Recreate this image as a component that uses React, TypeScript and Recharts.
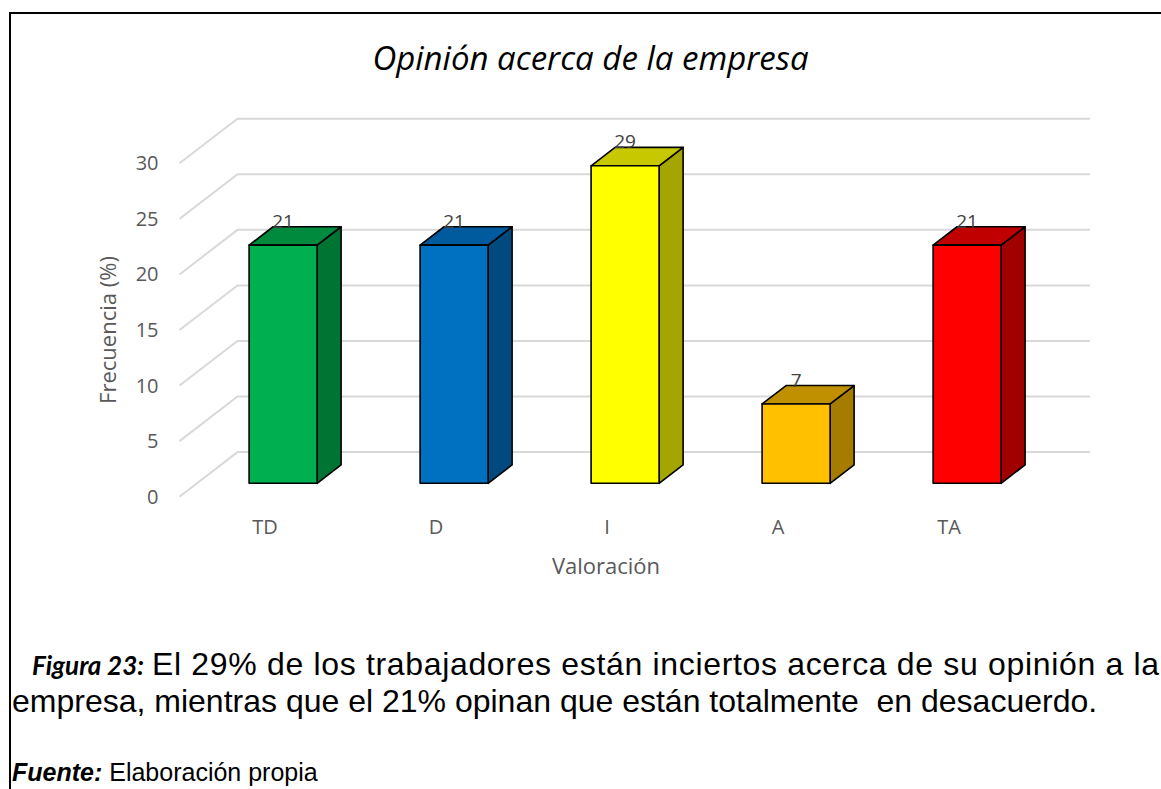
import React from "react";
import { BarChart, Bar, XAxis, YAxis, CartesianGrid, LabelList } from "recharts";

const categories = ["TD", "D", "I", "A", "TA"];
const frecuencia = [21.43, 21.43, 28.57, 7.14, 21.43];
const yTicks = [0, 5, 10, 15, 20, 25, 30];

const frontColors = ["#00B050", "#0070C0", "#FFFF00", "#FFC000", "#FF0000"];
const topColors = ["#008A3E", "#005A9E", "#C8C800", "#C09000", "#C00000"];
const sideColors = ["#007433", "#004A80", "#A5A500", "#A67C00", "#A00000"];

const data = categories.map((c, i) => ({ name: c, value: frecuencia[i] }));

// fake 3d offsets (px)
const WALL_DX = 58;
const WALL_DY = -44.6;
const BAR_DX = 17.6;
const BAR_DY = -13.4;
const DEPTH_DX = 24;
const DEPTH_DY = -18.4;

const FONT = "'Open Sans', sans-serif";
const ARIAL = "'Liberation Sans', Arial, sans-serif";
const GRAY = "#595959";

function GridLine(props: any) {
  const { x1, x2, y1 } = props;
  const d = `M${x1},${y1} L${x1 + WALL_DX},${y1 + WALL_DY} L${x2 + WALL_DX - 2.5},${y1 + WALL_DY}`;
  return <path key={props.key} d={d} fill="none" stroke="#D9D9D9" strokeWidth={2} />;
}

function Bar3D(props: any) {
  const { x, y, width, height, index } = props;
  const bx = x + BAR_DX;
  const top = y + BAR_DY;
  const base = y + height + BAR_DY;
  const r = bx + width;
  const s = { stroke: "#000", strokeWidth: 1.6, strokeLinejoin: "round" as const };
  return (
    <g>
      <polygon
        points={`${r},${top} ${r + DEPTH_DX},${top + DEPTH_DY} ${r + DEPTH_DX},${base + DEPTH_DY} ${r},${base}`}
        fill={sideColors[index]}
        {...s}
      />
      <polygon
        points={`${bx},${top} ${bx + DEPTH_DX},${top + DEPTH_DY} ${r + DEPTH_DX},${top + DEPTH_DY} ${r},${top}`}
        fill={topColors[index]}
        {...s}
      />
      <rect x={bx} y={top} width={width} height={base - top} fill={frontColors[index]} {...s} />
    </g>
  );
}

function ValueLabel(props: any) {
  const { x, y, width, value } = props;
  return (
    <text
      x={x + width / 2 + BAR_DX}
      y={y + BAR_DY + DEPTH_DY + 1}
      textAnchor="middle"
      fontFamily={FONT}
      fontSize={19}
      fill="#404040"
    >
      {Math.round(value)}
    </text>
  );
}

function YTick(props: any) {
  const { x, y, payload } = props;
  return (
    <text x={x} y={y} dy="0.35em" textAnchor="end" fontFamily={FONT} fontSize={20} fill={GRAY}>
      {payload.value}
    </text>
  );
}

function XTick(props: any) {
  const { x, y, payload } = props;
  return (
    <text x={x} y={y} dy="0.36em" textAnchor="middle" fontFamily={FONT} fontSize={20} fill={GRAY}>
      {payload.value}
    </text>
  );
}

export default function App() {
  return (
    <div
      style={{
        position: "absolute",
        left: 0,
        top: 0,
        width: 1161,
        height: 789,
        overflow: "hidden",
        background: "#fff",
      }}
    >
      {/* border of the figure box */}
      <div style={{ position: "absolute", left: 9, top: 12, width: 1152, height: 2, background: "#000" }} />
      <div style={{ position: "absolute", left: 9, top: 12, width: 2, height: 777, background: "#000" }} />

      <div style={{ position: "absolute", left: 0, top: 0 }}>
        <BarChart
          width={1161}
          height={600}
          data={data}
          margin={{ top: 163.3, right: 126.5, bottom: 0, left: 119.5 }}
          barSize={68}
        >
          <CartesianGrid horizontal={GridLine} vertical={false} />
          <XAxis
            dataKey="name"
            axisLine={false}
            tickLine={false}
            tickSize={0}
            tickMargin={30}
            height={103.3}
            tick={<XTick />}
            interval={0}
          />
          <YAxis
            domain={[0, 30]}
            ticks={yTicks}
            axisLine={false}
            tickLine={false}
            tickSize={0}
            tickMargin={21}
            width={60}
            tick={<YTick />}
          />
          <Bar dataKey="value" shape={<Bar3D />} isAnimationActive={false}>
            <LabelList dataKey="value" content={<ValueLabel />} />
          </Bar>
        </BarChart>
      </div>

      <svg
        width={1161}
        height={789}
        style={{ position: "absolute", left: 0, top: 0, pointerEvents: "none" }}
      >
        <text x={590.5} y={70} textAnchor="middle" fontFamily={FONT} fontStyle="italic" fontSize={33} fill="#000">
          Opinión acerca de la empresa
        </text>
        <text
          x={0}
          y={0}
          transform="translate(116,330) rotate(-90)"
          textAnchor="middle"
          fontFamily={FONT}
          fontSize={22}
          fill={GRAY}
        >
          Frecuencia (%)
        </text>
        <text x={606} y={574} textAnchor="middle" fontFamily={FONT} fontSize={22} fill={GRAY}>
          Valoración
        </text>

        <text x={32} y={675} fontFamily="Lato, sans-serif" fontWeight="bold" fontStyle="italic" fontSize={26} fill="#000">
          Figura 23:
        </text>
        <text x={152} y={675} fontFamily={ARIAL} fontSize={32} fill="#000" textLength={1007} lengthAdjust="spacing">
          El 29% de los trabajadores están inciertos acerca de su opinión a la
        </text>
        <text x={12} y={712} fontFamily={ARIAL} fontSize={32} fill="#000">
          empresa, mientras que el 21% opinan que están totalmente{"\u00a0"} en desacuerdo.
        </text>

        <text x={12} y={781} fontFamily={ARIAL} fontSize={25} fill="#000">
          <tspan fontWeight="bold" fontStyle="italic">Fuente:</tspan> Elaboración propia
        </text>
      </svg>
    </div>
  );
}
